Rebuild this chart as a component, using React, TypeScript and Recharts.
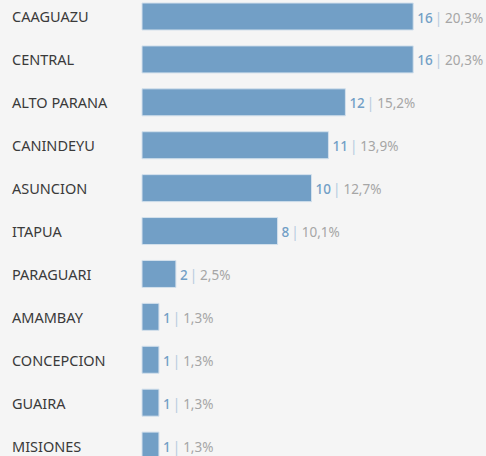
import { BarChart, Bar, XAxis, YAxis, LabelList } from 'recharts';

const departamentos = [
  'CAAGUAZU',
  'CENTRAL',
  'ALTO PARANA',
  'CANINDEYU',
  'ASUNCION',
  'ITAPUA',
  'PARAGUARI',
  'AMAMBAY',
  'CONCEPCION',
  'GUAIRA',
  'MISIONES',
];
const casos = [16, 16, 12, 11, 10, 8, 2, 1, 1, 1, 1];

const total = casos.reduce((a, b) => a + b, 0);
const data = departamentos.map((name, i) => ({ name, value: casos[i] }));

const BAR_COLOR = '#729fc6';
const FONT = '"Noto Sans", sans-serif';

function DeptTick({ y, payload }: any) {
  return (
    <text x={12} y={y} dy={6} fontSize={14.5} fill="#3a3a3a" fontFamily={FONT} textAnchor="start">
      {payload.value}
    </text>
  );
}

function ValueLabel({ x, y, width, height, value }: any) {
  const pct = ((value / total) * 100).toFixed(1).replace('.', ',');
  return (
    <text x={x + width + 4} y={y + height / 2} dy={6} fontSize={13.5} fontFamily={FONT}>
      <tspan fill={BAR_COLOR} fontWeight={500}>{value}</tspan>
      <tspan fill="#b5cce0" dx={2}>|</tspan>
      <tspan fill="#a6a6a6" dx={3}>{pct}%</tspan>
    </text>
  );
}

export default function App() {
  return (
    <div
      style={{
        position: 'absolute',
        top: 0,
        left: 0,
        width: 486,
        height: 456,
        overflow: 'hidden',
        background: '#f5f5f5',
      }}
    >
      <div style={{ position: 'absolute', top: -5, left: 0 }}>
        <BarChart
          width={486}
          height={472}
          data={data}
          layout="vertical"
          margin={{ top: 0, right: 5, bottom: 0, left: 0 }}
        >
          <XAxis type="number" domain={[0, 20]} hide />
          <YAxis
            type="category"
            dataKey="name"
            width={142}
            axisLine={false}
            tickLine={false}
            tick={<DeptTick />}
            interval={0}
          />
          <Bar
            dataKey="value"
            fill={BAR_COLOR}
            stroke="#d3e0ec"
            strokeWidth={1}
            barSize={27}
            isAnimationActive={false}
          >
            <LabelList dataKey="value" content={<ValueLabel />} />
          </Bar>
        </BarChart>
      </div>
    </div>
  );
}
